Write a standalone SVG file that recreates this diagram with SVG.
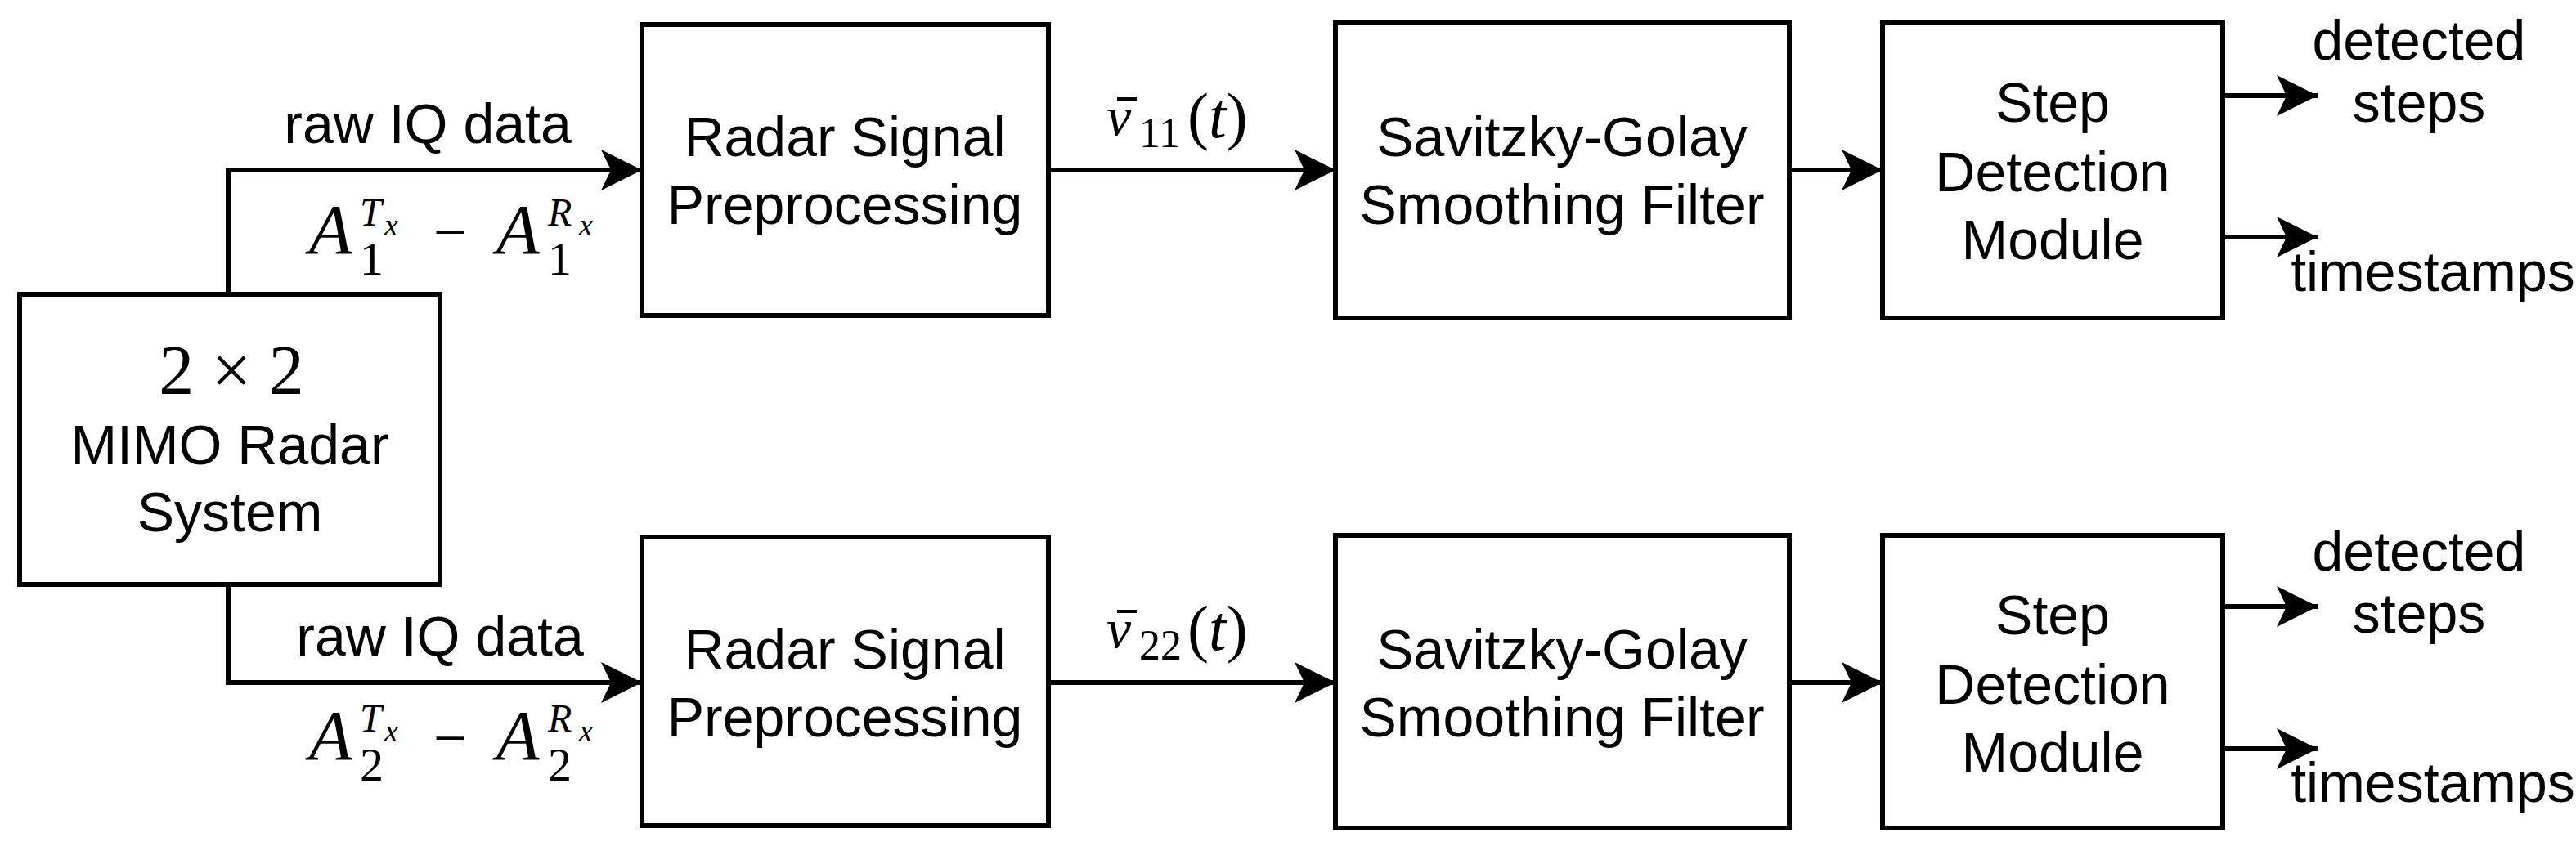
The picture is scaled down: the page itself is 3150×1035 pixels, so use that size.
<svg xmlns="http://www.w3.org/2000/svg" width="3150" height="1035" viewBox="0 0 3150 1035">
<style>
.b{fill:#fff;stroke:#000;stroke-width:6}
.t{font-family:"Liberation Sans",Arial,sans-serif;font-size:68px;text-anchor:middle;fill:#000}
.m{font-family:"Liberation Serif","Times New Roman",serif;font-style:italic;fill:#000}
.r{font-family:"Liberation Serif","Times New Roman",serif;fill:#000}
.c{fill:none;stroke:#000;stroke-width:6}
</style>
<defs>
<marker id="a" markerUnits="userSpaceOnUse" markerWidth="52" markerHeight="50" refX="50" refY="25" orient="auto" viewBox="0 0 52 50">
<path d="M0,0 L50,25 L0,50 L12,25 z" fill="#000"/>
</marker>
</defs>
<rect width="3150" height="1035" fill="#fff"/>
<g id="connectors">
<path class="c" d="M279,360 V208 H785" marker-end="url(#a)"/>
<path class="c" d="M279,715 V835 H785" marker-end="url(#a)"/>
<path class="c" d="M1282,208 H1633" marker-end="url(#a)"/>
<path class="c" d="M1282,835 H1633" marker-end="url(#a)"/>
<path class="c" d="M2188,208 H2302" marker-end="url(#a)"/>
<path class="c" d="M2188,835 H2302" marker-end="url(#a)"/>
<path class="c" d="M2718,117 H2834" marker-end="url(#a)"/>
<path class="c" d="M2718,290 H2834" marker-end="url(#a)"/>
<path class="c" d="M2718,742 H2834" marker-end="url(#a)"/>
<path class="c" d="M2718,916 H2834" marker-end="url(#a)"/>
</g>
<g id="labels">
<text class="t" x="523" y="175">raw IQ data</text>
<text class="t" x="538" y="802">raw IQ data</text>
<g id="lab1">
<text class="m" x="378" y="310" font-size="86">A</text>
<text class="r" x="440" y="336" font-size="58">1</text>
<text class="m" x="440" y="276" font-size="48">T</text>
<text class="m" x="470" y="288" font-size="38">x</text>
<text class="r" x="530" y="308" font-size="72">−</text>
<text class="m" x="607" y="310" font-size="86">A</text>
<text class="r" x="670" y="336" font-size="58">1</text>
<text class="m" x="670" y="276" font-size="48">R</text>
<text class="m" x="708" y="288" font-size="38">x</text>
</g>
<g id="lab2">
<text class="m" x="378" y="929" font-size="86">A</text>
<text class="r" x="440" y="955" font-size="58">2</text>
<text class="m" x="440" y="895" font-size="48">T</text>
<text class="m" x="470" y="907" font-size="38">x</text>
<text class="r" x="530" y="927" font-size="72">−</text>
<text class="m" x="607" y="929" font-size="86">A</text>
<text class="r" x="670" y="955" font-size="58">2</text>
<text class="m" x="670" y="895" font-size="48">R</text>
<text class="m" x="708" y="907" font-size="38">x</text>
</g>
<g id="v11">
<text class="m" x="1353" y="165" font-size="68">v</text>
<line x1="1366" y1="121" x2="1390" y2="121" stroke="#000" stroke-width="4"/>
<text class="r" x="1393" y="180" font-size="52">11</text>
<text class="r" x="1452" y="168" font-size="78">(<tspan font-style="italic">t</tspan>)</text>
</g>
<g id="v22">
<text class="m" x="1353" y="792" font-size="68">v</text>
<line x1="1366" y1="748" x2="1390" y2="748" stroke="#000" stroke-width="4"/>
<text class="r" x="1393" y="807" font-size="52">22</text>
<text class="r" x="1452" y="795" font-size="78">(<tspan font-style="italic">t</tspan>)</text>
</g>
<text class="t" x="2958" y="73">detected</text>
<text class="t" x="2958" y="149">steps</text>
<text class="t" x="2975" y="356">timestamps</text>
<text class="t" x="2958" y="698">detected</text>
<text class="t" x="2958" y="774">steps</text>
<text class="t" x="2975" y="981">timestamps</text>
</g>
<g id="mimo">
<rect class="b" x="24" y="360" width="514" height="355"/>
<text class="r" x="283" y="482" font-size="86" text-anchor="middle">2 × 2</text>
<text class="t" x="281" y="568">MIMO Radar</text>
<text class="t" x="281" y="650">System</text>
</g>
<g id="rsp1">
<rect class="b" x="785" y="30" width="497" height="356"/>
<text class="t" x="1033" y="191">Radar Signal</text>
<text class="t" x="1033" y="274">Preprocessing</text>
</g>
<g id="rsp2">
<rect class="b" x="785" y="657" width="497" height="353"/>
<text class="t" x="1033" y="818">Radar Signal</text>
<text class="t" x="1033" y="901">Preprocessing</text>
</g>
<g id="sg1">
<rect class="b" x="1633" y="28" width="555" height="361"/>
<text class="t" x="1910" y="191">Savitzky-Golay</text>
<text class="t" x="1910" y="274">Smoothing Filter</text>
</g>
<g id="sg2">
<rect class="b" x="1633" y="655" width="555" height="358"/>
<text class="t" x="1910" y="818">Savitzky-Golay</text>
<text class="t" x="1910" y="901">Smoothing Filter</text>
</g>
<g id="sd1">
<rect class="b" x="2302" y="28" width="416" height="361"/>
<text class="t" x="2510" y="149">Step</text>
<text class="t" x="2510" y="234">Detection</text>
<text class="t" x="2510" y="317">Module</text>
</g>
<g id="sd2">
<rect class="b" x="2302" y="655" width="416" height="358"/>
<text class="t" x="2510" y="776">Step</text>
<text class="t" x="2510" y="861">Detection</text>
<text class="t" x="2510" y="944">Module</text>
</g>
</svg>
